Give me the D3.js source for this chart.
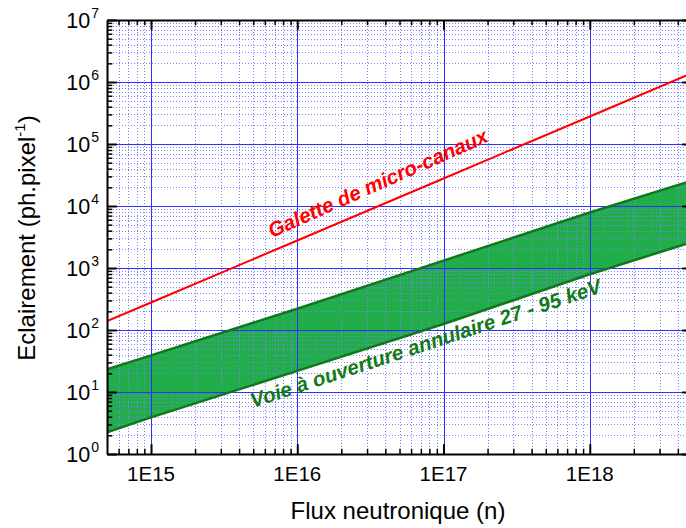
<!DOCTYPE html>
<html>
<head>
<meta charset="utf-8">
<script src="https://cdn.jsdelivr.net/npm/d3@7"></script>
<style>
  html, body { margin: 0; padding: 0; background: #fff; }
  svg { display: block; font-family: Arial, "Liberation Sans", sans-serif; }
</style>
</head>
<body>
<svg id="chart" width="686" height="528"></svg>
<script>
// ---- Data ----
const fluxPoints = [5e14, 1e15, 1e16, 1e17, 1e18, 5e18];
const mcpValues  = [139, 278, 2780, 27800, 278000, 1390000];
const bandUpper  = [23.3, 39, 220, 1315, 7870, 25700];
const bandLower  = [2.23, 3.89, 21.9, 125, 792, 2630];
const xTickValues = [1e15, 1e16, 1e17, 1e18];
const xTickLabels = ["1E15", "1E16", "1E17", "1E18"];
const yTickExponents = [0, 1, 2, 3, 4, 5, 6, 7];
const xTitle = "Flux neutronique (n)";
const yTitleMain = "Eclairement (ph.pixel";
const yTitleSup = "-1";
const mcpLabel = "Galette de micro-canaux";
const bandLabel = "Voie à ouverture annulaire 27 - 95 keV";

(function () {
// ---- Layout ----
const svg = d3.select("#chart");
const pL = 107, pR = 692, pT = 20, pB = 454;
const x = d3.scaleLog().domain([5e14, 5e18]).range([pL, pR]);
const y = d3.scaleLog().domain([1, 1e7]).range([pB, pT]);

svg.append("defs").append("clipPath").attr("id", "plotclip")
  .append("rect").attr("x", pL).attr("y", pT)
  .attr("width", pR - pL).attr("height", pB - pT);

// minor values
const xMinor = [];
for (let e = 14; e <= 18; e++) for (let m = 2; m <= 9; m++) {
  const v = m * Math.pow(10, e);
  if (v > 5e14 && v < 5e18) xMinor.push(v);
}
const yMinor = [];
for (let e = 0; e < 7; e++) for (let m = 2; m <= 9; m++) yMinor.push(m * Math.pow(10, e));

const bandData = fluxPoints.map((f, i) => ({ f, lo: bandLower[i], hi: bandUpper[i] }));

// ---- Band fill (under the grid) ----
svg.append("g").attr("clip-path", "url(#plotclip)")
  .append("path").datum(bandData)
  .attr("d", d3.area().x(d => x(d.f)).y0(d => y(d.lo)).y1(d => y(d.hi)))
  .attr("fill", "#22ad4b");

const grid = svg.append("g").attr("clip-path", "url(#plotclip)");
// minor grid (dotted)
grid.selectAll(".xminor").data(xMinor).join("line")
  .attr("x1", d => Math.round(x(d)) + 0.5).attr("x2", d => Math.round(x(d)) + 0.5)
  .attr("y1", pT).attr("y2", pB)
  .attr("stroke", "#8080ff").attr("stroke-width", 1).attr("stroke-dasharray", "1,2");
grid.selectAll(".yminor").data(yMinor).join("line")
  .attr("y1", d => Math.round(y(d)) + 0.5).attr("y2", d => Math.round(y(d)) + 0.5)
  .attr("x1", pL).attr("x2", pR)
  .attr("stroke", "#8080ff").attr("stroke-width", 1).attr("stroke-dasharray", "1,2");
// major grid
grid.selectAll(".xmajor").data(xTickValues).join("line")
  .attr("x1", d => Math.round(x(d)) + 0.5).attr("x2", d => Math.round(x(d)) + 0.5)
  .attr("y1", pT).attr("y2", pB)
  .attr("stroke", "#2f2fff").attr("stroke-width", 1);
grid.selectAll(".ymajor").data(yTickExponents.slice(1, -1).map(e => Math.pow(10, e))).join("line")
  .attr("y1", d => Math.round(y(d)) + 0.5).attr("y2", d => Math.round(y(d)) + 0.5)
  .attr("x1", pL).attr("x2", pR)
  .attr("stroke", "#2f2fff").attr("stroke-width", 1);

// ---- Series lines ----
const series = svg.append("g").attr("clip-path", "url(#plotclip)");
series.append("path").datum(bandData)
  .attr("d", d3.line().x(d => x(d.f)).y(d => y(d.hi)))
  .attr("fill", "none").attr("stroke", "#10781a").attr("stroke-width", 2.5);
series.append("path").datum(bandData)
  .attr("d", d3.line().x(d => x(d.f)).y(d => y(d.lo)))
  .attr("fill", "none").attr("stroke", "#10781a").attr("stroke-width", 2.5);
series.append("path").datum(fluxPoints.map((f, i) => ({ f, v: mcpValues[i] })))
  .attr("d", d3.line().x(d => x(d.f)).y(d => y(d.v)))
  .attr("fill", "none").attr("stroke", "#ff0000").attr("stroke-width", 2);

// ---- Axes (ticks inward on all four sides) ----
const yTickVals = yTickExponents.map(e => Math.pow(10, e));
const axB = d3.axisBottom(x).tickValues(xTickValues.concat(xMinor)).tickFormat("")
  .tickSizeInner(-7).tickSizeOuter(0);
const axT = d3.axisTop(x).tickValues(xTickValues.concat(xMinor)).tickFormat("")
  .tickSizeInner(-7).tickSizeOuter(0);
const axL = d3.axisLeft(y).tickValues(yTickVals.concat(yMinor)).tickFormat("")
  .tickSizeInner(-7).tickSizeOuter(0);
const axR = d3.axisRight(y).tickValues(yTickVals.concat(yMinor)).tickFormat("")
  .tickSizeInner(-7).tickSizeOuter(0);

function styleAxis(g, majorSet, attr) {
  g.select(".domain").attr("stroke", "#000").attr("stroke-width", 2);
  g.selectAll(".tick line").attr("stroke", "#000").attr("stroke-width", 1.5)
    .each(function(d) {
      const isMajor = majorSet.some(m => Math.abs(m - d) / m < 1e-9);
      const el = d3.select(this);
      const val = +el.attr(attr);
      el.attr(attr, isMajor ? val * 1.4 : val * 0.75);
      if (isMajor) el.attr("stroke-width", 2);
    });
}
const gB = svg.append("g").attr("transform", `translate(0,${pB})`).call(axB);
styleAxis(gB, xTickValues, "y2");
const gT = svg.append("g").attr("transform", `translate(0,${pT})`).call(axT);
styleAxis(gT, xTickValues, "y2");
const gL = svg.append("g").attr("transform", `translate(${pL},0)`).call(axL);
styleAxis(gL, yTickVals, "x2");
const gR = svg.append("g").attr("transform", `translate(${pR},0)`).call(axR);
styleAxis(gR, yTickVals, "x2");

// ---- Tick labels ----
svg.append("g").selectAll("text").data(xTickValues).join("text")
  .attr("x", d => x(d)).attr("y", 481)
  .attr("text-anchor", "middle").attr("font-size", 20.5).attr("fill", "#000")
  .text((d, i) => xTickLabels[i]);

const yl = svg.append("g").selectAll("text").data(yTickExponents).join("text")
  .attr("x", 99).attr("y", d => y(Math.pow(10, d)) + 8)
  .attr("text-anchor", "end").attr("font-size", 21.5).attr("fill", "#000");
yl.append("tspan").text("10");
yl.append("tspan").attr("font-size", 14).attr("dy", -10).attr("dx", 1).text(d => d);

// ---- Axis titles ----
svg.append("text").attr("x", 398).attr("y", 519)
  .attr("text-anchor", "middle").attr("font-size", 24).attr("fill", "#000")
  .text(xTitle);
const yt = svg.append("text")
  .attr("transform", "translate(35,238) rotate(-90)")
  .attr("text-anchor", "middle").attr("font-size", 24).attr("fill", "#000");
yt.append("tspan").text(yTitleMain);
yt.append("tspan").attr("font-size", 15).attr("dy", -10).text(yTitleSup);
yt.append("tspan").attr("dy", 10).text(")");

// ---- Annotations ----
svg.append("text")
  .attr("transform", "translate(272,238) rotate(-24)")
  .attr("font-size", 20.5).attr("font-weight", "bold").attr("font-style", "italic")
  .attr("fill", "#ff0000").text(mcpLabel);
svg.append("text")
  .attr("transform", "translate(253,408) rotate(-18.3)")
  .attr("font-size", 20.5).attr("font-weight", "bold").attr("font-style", "italic")
  .attr("fill", "#137a17").text(bandLabel);
})();
</script>
</body>
</html>
